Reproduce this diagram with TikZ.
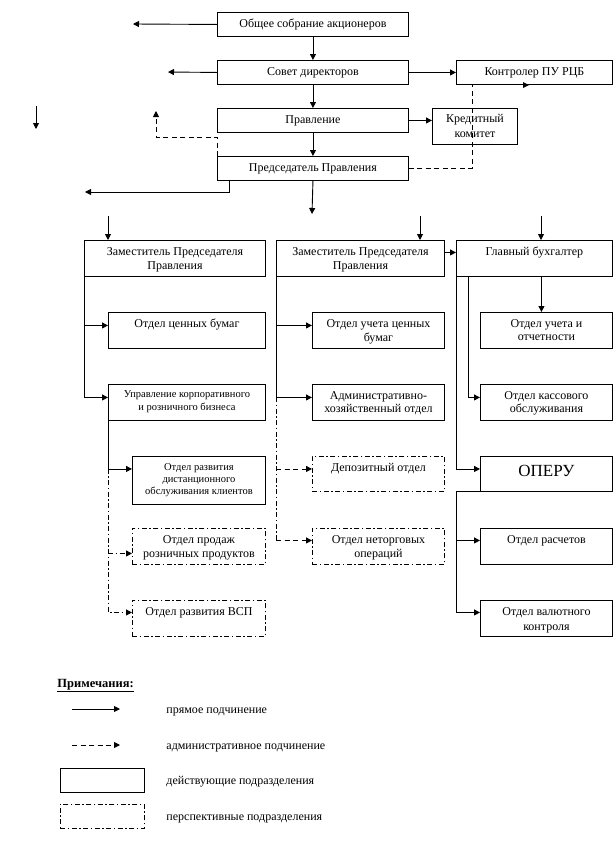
\documentclass[tikz,border=0pt]{standalone}
\usepackage{fontspec}
\setmainfont{Liberation Serif}
\usetikzlibrary{arrows.meta}
\newcommand\bxt[4]{\parbox[c][#2pt][t]{#1pt}{\centering\rule{0pt}{#3pt}#4\par}}
\begin{document}
\begin{tikzpicture}[x=1pt,y=-1pt,line width=0.9pt,
  font=\fontsize{12}{14}\selectfont,
  box/.style={draw,inner sep=0pt,anchor=north west},
  pbox/.style={box,dash pattern=on 5pt off 2.5pt on 1.5pt off 2.5pt},
  arr/.style={-{Triangle[length=6pt,width=6pt]}},
  darr/.style={arr,dash pattern=on 5pt off 3.5pt},
  dline/.style={dash pattern=on 5pt off 3.5pt},
  ddarr/.style={arr,dash pattern=on 5pt off 2.5pt on 1.5pt off 2.5pt},
  ddline/.style={dash pattern=on 5pt off 2.5pt on 1.5pt off 2.5pt},
  small/.style={font=\fontsize{10.5}{12}\selectfont},
  big/.style={font=\fontsize{17}{20}\selectfont},
  legtext/.style={anchor=base west,inner sep=0pt}]
\useasboundingbox (0,0) rectangle (613,865);
% top chain
\node[box] (n1) at (217,12) {\bxt{191}{24}{15.5}{Общее собрание акционеров}};
\node[box] (n2) at (217,60) {\bxt{191}{24}{15.5}{Совет директоров}};
\node[box] (n3) at (217,108) {\bxt{191}{24}{15.5}{Правление}};
\node[box] (n4) at (217,156) {\bxt{191}{24}{15.5}{Председатель Правления}};
\node[box] (kontr) at (456,60) {\bxt{156}{24}{15.5}{Контролер ПУ РЦБ}};
\node[box,font=\fontsize{12}{15.5}\selectfont] (kred) at (432,108) {\bxt{85}{36}{14}{Кредитный\\комитет}};
% level 2
\node[box] (z1) at (84,240) {\bxt{181}{36}{15.5}{Заместитель Председателя\\Правления}};
\node[box] (z2) at (276,240) {\bxt{168}{36}{15.5}{Заместитель Председателя\\Правления}};
\node[box] (gb) at (456,240) {\bxt{156}{36}{15.5}{Главный бухгалтер}};
% level 3
\node[box] (ocb) at (108,312) {\bxt{157}{36}{15.5}{Отдел ценных бумаг}};
\node[box,font=\fontsize{12}{13.5}\selectfont] (ouc) at (312,312) {\bxt{132}{36}{15.5}{Отдел учета ценных\\бумаг}};
\node[box,font=\fontsize{12}{13.5}\selectfont] (uo) at (480,312) {\bxt{132}{36}{15}{Отдел учета и\\отчетности}};
\node[box,font=\fontsize{10.5}{13}\selectfont] (upr) at (108,384) {\bxt{157}{36}{13.5}{Управление корпоративного\\и розничного бизнеса}};
\node[box,font=\fontsize{12}{13}\selectfont] (aht) at (312,384) {\bxt{132}{36}{15.5}{Административно-\\хозяйственный отдел}};
\node[box,font=\fontsize{12}{13}\selectfont] (kass) at (480,384) {\bxt{132}{36}{15.5}{Отдел кассового\\обслуживания}};
\node[box,small] (dist) at (132,456) {\bxt{133}{48}{14}{Отдел развития\\дистанционного\\обслуживания клиентов}};
\node[pbox] (dep) at (312,456) {\bxt{132}{35}{15.5}{Депозитный отдел}};
\node[box,big] (operu) at (480,456) {\bxt{132}{35}{20.5}{ОПЕРУ}};
\node[pbox] (prod) at (132,528) {\bxt{133}{36}{15}{Отдел продаж\\розничных продуктов}};
\node[pbox] (neto) at (312,528) {\bxt{132}{36}{15}{Отдел неторговых\\операций}};
\node[box] (rasch) at (480,528) {\bxt{132}{36}{15}{Отдел расчетов}};
\node[pbox] (vsp) at (132,600) {\bxt{133}{36}{15}{Отдел развития ВСП}};
\node[box,font=\fontsize{12}{15}\selectfont] (valk) at (480,600) {\bxt{132}{36}{15}{Отдел валютного\\контроля}};
% free ends
\coordinate (c1) at (133,24);
\coordinate (c2) at (168,72);
\coordinate (c3) at (156,111);
\coordinate (c4) at (36,106);
\coordinate (c5) at (36,129);
\coordinate (c6) at (85,192);
\coordinate (c7) at (312,214);
\coordinate (c8) at (108,216);
\coordinate (c9) at (420,216);
\coordinate (c10) at (541,216);
% top connectors
\draw[arr] (n1.west) -- (c1);
\draw[arr] (n1.south) -- (n2.north);
\draw[arr] (n2.west) -- (c2);
\draw[arr] (n2.east) -- (kontr.west);
\draw[arr] (n2.south) -- (n3.north);
\draw[arr] (n3.east) -- (n3.east -| kred.west);
\draw[arr] (n3.south) -- (n4.north);
\draw[darr] (n4.north west) -- ++(0,-19) -| (c3);
\draw[arr] (c4) -- (c5);
\draw[arr] ([xshift=12pt]n4.south west) |- (c6);
\draw[arr] (n4.south) -- (c7);
\draw[dline] (n4.east) -| ([xshift=16pt]kontr.south west);
\fill (523,82) -- (529,85) -- (523,88) -- cycle;
\draw[arr] (c8) -- (c8 |- z1.north);
\draw[arr] (c9) -- (c9 |- z2.north);
\draw[arr] (c10) -- (c10 |- gb.north);
\draw[arr] ([yshift=6pt]z2.east) -- ([yshift=6pt]z2.east -| gb.west);
% column 1
\draw[arr] (z1.south west) |- ([yshift=5pt]upr.west);
\draw[arr] ([yshift=5pt]ocb.west -| z1.south west) -- ([yshift=5pt]ocb.west);
\draw[arr] (upr.south west) |- ([yshift=11.5pt]dist.west);
\draw[ddarr] ([yshift=11.5pt]dist.west -| upr.south west) |- ([yshift=6pt]vsp.west);
\draw[ddarr] ([yshift=-7pt]prod.west -| upr.south west) -- ([yshift=-7pt]prod.west);
% column 2
\draw[arr] (z2.south west) |- ([yshift=5pt]aht.west);
\draw[arr] ([yshift=5pt]ouc.west -| z2.south west) -- ([yshift=5pt]ouc.west);
\draw[ddline] ([yshift=5pt]aht.west -| z2.south west) -- ([yshift=6pt]neto.west -| z2.south west);
\draw[darr] ([yshift=5pt]dep.west -| z2.south west) -- ([yshift=5pt]dep.west);
\draw[darr] ([yshift=6pt]neto.west -| z2.south west) -- ([yshift=6pt]neto.west);
% column 3
\draw[arr] (gb.south west) |- ([yshift=5pt]operu.west);
\draw[arr] ([xshift=12pt]gb.south west) |- ([yshift=5pt]kass.west);
\draw[arr] ([xshift=-5pt]uo.north |- gb.south) -- ([xshift=-5pt]uo.north);
\draw[arr] (operu.south west) -- ++(-24,0) |- ([yshift=6pt]valk.west);
\draw[arr] ([yshift=6pt]rasch.west -| 456,0) -- ([yshift=6pt]rasch.west);
% legend
\node[legtext,font=\fontsize{12.5}{14}\selectfont\bfseries] (leg) at (57,687) {\underline{Примечания:}};
\coordinate (l1a) at (72,709);
\coordinate (l1b) at (120,709);
\draw[arr] (l1a) -- (l1b);
\node[legtext] (lt1) at (166,713) {прямое подчинение};
\coordinate (l2a) at (72,745);
\coordinate (l2b) at (120,745);
\draw[darr] (l2a) -- (l2b);
\node[legtext] (lt2) at (166,749) {административное подчинение};
\node[box,minimum width=84pt,minimum height=24pt] (lb1) at (60,768) {};
\node[legtext] (lt3) at (166,784) {действующие подразделения};
\node[pbox,minimum width=84pt,minimum height=24pt] (lb2) at (60,804) {};
\node[legtext] (lt4) at (166,820) {перспективные подразделения};
\end{tikzpicture}
\end{document}
